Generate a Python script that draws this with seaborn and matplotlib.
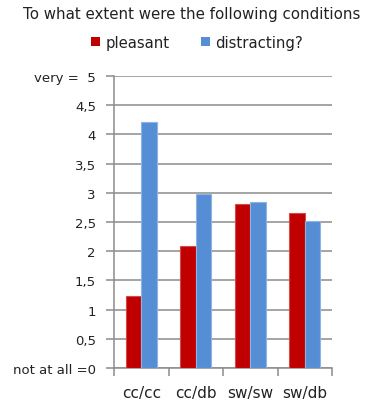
import matplotlib
matplotlib.use("Agg")
import matplotlib.pyplot as plt
import seaborn as sns
import pandas as pd
from matplotlib.patches import Patch

categories = ["cc/cc", "cc/db", "sw/sw", "sw/db"]
pleasant = [1.23, 2.09, 2.80, 2.65]
distracting = [4.21, 2.98, 2.85, 2.52]
series_names = ["pleasant", "distracting?"]
y_ticks = [0, 0.5, 1, 1.5, 2, 2.5, 3, 3.5, 4, 4.5, 5]
y_tick_labels = ["not at all =0", "0,5", "1", "1,5", "2", "2,5", "3", "3,5", "4", "4,5", "very =  5"]
title = "To what extent were the following conditions"

df = pd.DataFrame({
    "cat": categories * 2,
    "val": pleasant + distracting,
    "series": [series_names[0]] * 4 + [series_names[1]] * 4,
})

sns.set_theme(style="white")
plt.rcParams['font.family'] = ['DejaVu Sans']

fig = plt.figure(figsize=(3.67, 4.02), dpi=100)
ax = fig.add_axes([114/367, 33/402, 218/367, 292/402])

palette = {series_names[0]: "#C00000", series_names[1]: "#558ED5"}
sns.barplot(data=df, x="cat", y="val", hue="series", palette=palette,
            width=0.57, ax=ax, saturation=1, legend=False)
edge = {0: "#D24A4A", 1: "#8DB4E2"}
for i, cont in enumerate(ax.containers):
    for p in cont:
        p.set_edgecolor(edge[i])
        p.set_linewidth(0.8)
        p.set_zorder(3)

ax.set_ylim(0, 5)
ax.set_xlim(-0.5, 3.5)
ax.set_yticks(y_ticks)
ax.set_yticklabels(y_tick_labels, fontsize=9.5, color="#222222")
ax.yaxis.grid(True, color="#8c8c8c", linewidth=1.1)
ax.set_axisbelow(True)
ax.set_xlabel("")
ax.set_ylabel("")
for s in ["top", "right"]:
    ax.spines[s].set_visible(False)
for s in ["left", "bottom"]:
    ax.spines[s].set_color("#8c8c8c")
    ax.spines[s].set_linewidth(1.1)
ax.tick_params(axis="y", length=6, width=1.1, color="#8c8c8c", pad=7, left=True, direction="out")

# category tick marks between groups (Excel style)
ax.set_xticks([-0.5, 0.5, 1.5, 2.5, 3.5], minor=True)
ax.tick_params(axis="x", which="minor", length=6, width=1.1, color="#8c8c8c", bottom=True, direction="out")
ax.tick_params(axis="x", which="major", length=0, pad=12, labelsize=11, labelcolor="#222222")

fig.text(0.522, 0.963, title, ha="center", va="center", fontsize=10.8, color="#222222")

handles = [Patch(facecolor=palette[n], edgecolor="none") for n in series_names]
fig.legend(handles, series_names, loc="center", bbox_to_anchor=(0.537, 0.893), ncol=2,
           frameon=False, fontsize=10.7, handlelength=0.6, handleheight=0.6,
           handletextpad=0.35, columnspacing=2.1, labelcolor="#222222")

fig.savefig("out.png", dpi=100)
